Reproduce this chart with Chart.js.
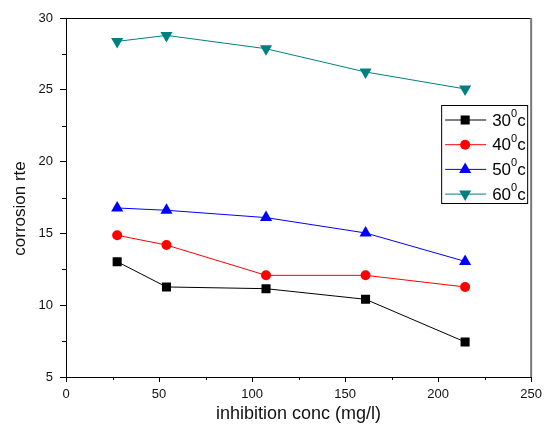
<!DOCTYPE html>
<html lang="en">

<head>
    <meta charset="UTF-8">
    <title>corrosion rate vs inhibition conc</title>
    <style>
        body {
            margin: 0;
            background-color: #fff;
        }

        canvas {
            display: block;
        }
    </style>
    <script src="https://cdn.jsdelivr.net/npm/chart.js"></script>
</head>

<body>

    <canvas id="corrosion-chart" width="547" height="430"></canvas>

    <script>
        // inhibitor concentration (mg/l)
        const concValues = [27.5, 54, 107.5, 161, 214.5];

        // corrosion rate for each temperature
        const rate30 = [13.03, 11.27, 11.15, 10.41, 7.44];
        const rate40 = [14.87, 14.19, 12.08, 12.08, 11.27];
        const rate50 = [16.77, 16.61, 16.10, 15.03, 13.05];
        const rate60 = [28.37, 28.79, 27.86, 26.24, 25.06];

        const tempLabels = ['30', '40', '50', '60'];

        const yTitle = 'corrosion rte';
        const xTitle = 'inhibition conc (mg/l)';

        const FONT = 'Arial, "Liberation Sans", sans-serif';

        function toPoints(ys) {
            return concValues.map((x, i) => ({ x: x, y: ys[i] }));
        }

        const seriesStyles = [
            { color: '#000000', pointStyle: 'rect', radius: 6.4, rotation: 0 },
            { color: '#ff0000', pointStyle: 'circle', radius: 5, rotation: 0 },
            { color: '#0000ff', pointStyle: 'triangle', radius: 7, rotation: 0 },
            { color: '#008080', pointStyle: 'triangle', radius: 7, rotation: 180 }
        ];

        const seriesData = [rate30, rate40, rate50, rate60];

        const datasets = seriesData.map((ys, i) => {
            const s = seriesStyles[i];
            return {
                label: tempLabels[i] + '\u2070c',
                data: toPoints(ys),
                borderColor: s.color,
                backgroundColor: s.color,
                borderWidth: 1,
                pointStyle: s.pointStyle,
                pointRadius: s.radius,
                pointRotation: s.rotation,
                pointBorderWidth: 0,
                pointHoverRadius: s.radius,
                tension: 0
            };
        });

        // minor ticks half way between the major ones + frame on top/right
        const frameAndMinor = {
            id: 'frameAndMinor',
            afterDraw(chart) {
                const ctx = chart.ctx;
                const a = chart.chartArea;
                const xs = chart.scales.x;
                const ys = chart.scales.y;
                ctx.save();
                ctx.strokeStyle = '#000';
                ctx.lineWidth = 1;
                ctx.beginPath();
                for (let i = 0; i < xs.ticks.length - 1; i++) {
                    const v = (xs.ticks[i].value + xs.ticks[i + 1].value) / 2;
                    const px = Math.round(xs.getPixelForValue(v)) + 0.5;
                    ctx.moveTo(px, a.bottom);
                    ctx.lineTo(px, a.bottom + 3);
                }
                for (let i = 0; i < ys.ticks.length - 1; i++) {
                    const v = (ys.ticks[i].value + ys.ticks[i + 1].value) / 2;
                    const py = Math.round(ys.getPixelForValue(v)) + 0.5;
                    ctx.moveTo(a.left - 4, py);
                    ctx.lineTo(a.left, py);
                }
                ctx.stroke();

                // top border
                ctx.beginPath();
                ctx.moveTo(a.left, a.top + 0.5);
                ctx.lineTo(a.right, a.top + 0.5);
                ctx.stroke();

                // right border (greyish in the original)
                ctx.strokeStyle = '#777';
                ctx.lineWidth = 2;
                ctx.beginPath();
                ctx.moveTo(a.right, a.top);
                ctx.lineTo(a.right, a.bottom);
                ctx.stroke();

                // y title, sits a little below the middle in the original
                ctx.fillStyle = '#111';
                ctx.font = '17px ' + FONT;
                ctx.textAlign = 'center';
                ctx.textBaseline = 'middle';
                ctx.translate(20, (a.top + a.bottom) / 2 + 11);
                ctx.rotate(-Math.PI / 2);
                ctx.fillText(yTitle, 0, 0);
                ctx.restore();
            }
        };

        // boxed legend inside the plot, with superscript degree zero
        const boxLegend = {
            id: 'boxLegend',
            afterDraw(chart) {
                const ctx = chart.ctx;
                const a = chart.chartArea;
                const boxRight = a.right - 4;
                const boxW = 86;
                const boxTop = a.top + 87;
                const boxH = 98;
                const left = boxRight - boxW;

                ctx.save();
                ctx.fillStyle = '#fff';
                ctx.fillRect(left, boxTop, boxW, boxH);
                ctx.strokeStyle = '#000';
                ctx.lineWidth = 1;
                ctx.strokeRect(left + 0.5, boxTop + 0.5, boxW, boxH);

                chart.data.datasets.forEach((ds, i) => {
                    const rowY = boxTop + 15 + i * 24.7;
                    ctx.strokeStyle = ds.borderColor;
                    ctx.lineWidth = 1;
                    ctx.beginPath();
                    ctx.moveTo(left + 4, rowY);
                    ctx.lineTo(left + 45, rowY);
                    ctx.stroke();

                    ctx.fillStyle = ds.backgroundColor;
                    Chart.helpers.drawPoint(ctx, {
                        pointStyle: ds.pointStyle,
                        rotation: ds.pointRotation,
                        radius: ds.pointRadius,
                        borderWidth: 0
                    }, left + 24, rowY);

                    // "30" + small raised "0" + "c"
                    ctx.fillStyle = '#000';
                    ctx.textBaseline = 'middle';
                    ctx.textAlign = 'left';
                    let tx = left + 51;
                    ctx.font = '17px ' + FONT;
                    ctx.fillText(tempLabels[i], tx, rowY + 1);
                    tx += ctx.measureText(tempLabels[i]).width;
                    ctx.font = '11px ' + FONT;
                    ctx.fillText('0', tx, rowY - 6);
                    tx += ctx.measureText('0').width;
                    ctx.font = '17px ' + FONT;
                    ctx.fillText('c', tx, rowY + 1);
                });
                ctx.restore();
            }
        };

        const ctx = document.getElementById('corrosion-chart').getContext('2d');
        new Chart(ctx, {
            type: 'line',
            data: { datasets: datasets },
            options: {
                responsive: false,
                animation: false,
                layout: {
                    padding: { top: 18, right: 13, left: 0, bottom: 0 }
                },
                scales: {
                    x: {
                        type: 'linear',
                        min: 0,
                        max: 250,
                        afterFit: (scale) => { scale.height = 53; },
                        ticks: {
                            stepSize: 50,
                            color: '#111',
                            padding: 5,
                            font: { family: FONT, size: 13 }
                        },
                        grid: {
                            drawOnChartArea: false,
                            drawTicks: true,
                            tickLength: 5,
                            color: '#000'
                        },
                        border: { color: '#000', width: 1 },
                        title: {
                            display: true,
                            text: xTitle,
                            color: '#111',
                            font: { family: FONT, size: 18 },
                            padding: { top: 0, bottom: 5 }
                        }
                    },
                    y: {
                        type: 'linear',
                        min: 5,
                        max: 30,
                        afterFit: (scale) => { scale.width = 66; },
                        ticks: {
                            stepSize: 5,
                            color: '#111',
                            padding: 7,
                            font: { family: FONT, size: 13 }
                        },
                        grid: {
                            drawOnChartArea: false,
                            drawTicks: true,
                            tickLength: 6,
                            color: '#000'
                        },
                        border: { color: '#000', width: 1 }
                    }
                },
                plugins: {
                    legend: { display: false },
                    tooltip: { enabled: false }
                }
            },
            plugins: [frameAndMinor, boxLegend]
        });
    </script>

</body>

</html>
